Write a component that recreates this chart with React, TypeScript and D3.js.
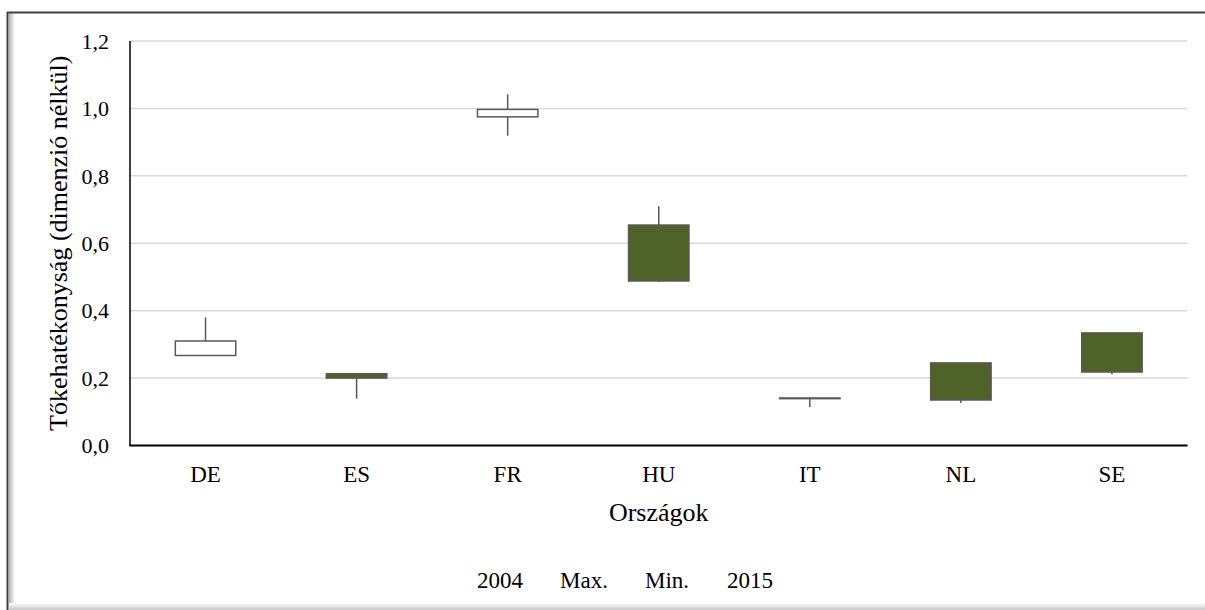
import React from "react";
import * as d3 from "d3";

const categories = ["DE", "ES", "FR", "HU", "IT", "NL", "SE"];
const open2004 = [0.267, 0.213, 0.975, 0.654, 0.141, 0.245, 0.334];
const maxValues = [0.38, 0.213, 1.042, 0.71, 0.141, 0.245, 0.334];
const minValues = [0.267, 0.139, 0.919, 0.486, 0.114, 0.126, 0.212];
const close2015 = [0.31, 0.2, 0.997, 0.488, 0.139, 0.135, 0.218];
const yTicks = [0, 0.2, 0.4, 0.6, 0.8, 1.0, 1.2];
const legendLabels = ["2004", "Max.", "Min.", "2015"];

const W = 1205;
const H = 610;
const left = 130;
const right = 1187.5;
const top = 41;
const bottom = 445.5;
const font = "'Liberation Serif', 'Times New Roman', serif";

export default function App() {
  const x = d3.scaleBand<string>().domain(categories).range([left, right]).padding(0);
  const y = d3.scaleLinear().domain([0, 1.2]).range([bottom, top]);
  const bw = x.bandwidth() * 0.4;
  const fmt = (v: number) => d3.format(".1f")(v).replace(".", ",");
  const legendX = [477, 560, 645, 727];

  return (
    <svg width={W} height={H} style={{ position: "absolute", left: 0, top: 0, background: "#fff" }}>
      <defs>
        <linearGradient id="shadowB" x1="0" y1="0" x2="0" y2="1">
          <stop offset="0" stopColor="#ffffff" />
          <stop offset="1" stopColor="#c8c8c8" />
        </linearGradient>
        <linearGradient id="shadowL" x1="0" y1="0" x2="1" y2="0">
          <stop offset="0" stopColor="#b0b0b0" />
          <stop offset="1" stopColor="#ffffff" />
        </linearGradient>
      </defs>
      <rect x={0} y={0} width={W} height={H} fill="#fff" />
      {/* outer frame */}
      <rect x={9} y={13} width={6} height={592} fill="url(#shadowL)" />
      <rect x={9} y={603} width={W - 9} height={7} fill="url(#shadowB)" />
      <line x1={7.5} y1={12} x2={7.5} y2={610} stroke="#404040" strokeWidth={2} />
      <line x1={7} y1={12.5} x2={W} y2={12.5} stroke="#404040" strokeWidth={2} />

      {/* gridlines */}
      {yTicks.map((t) => (
        <line key={"g" + t} x1={left} x2={right} y1={y(t)} y2={y(t)} stroke="#d9d9d9" strokeWidth={1.5} />
      ))}
      {/* y tick labels */}
      {yTicks.map((t) => (
        <text key={"t" + t} x={109} y={y(t)} dy="0.35em" textAnchor="end" fontFamily={font} fontSize={22} fill="#000">
          {fmt(t)}
        </text>
      ))}

      {/* candles */}
      {categories.map((c, i) => {
        const cx = (x(c) as number) + x.bandwidth() / 2;
        const o = open2004[i];
        const cl = close2015[i];
        const up = cl >= o;
        const yTop = y(Math.max(o, cl));
        const yBot = y(Math.min(o, cl));
        return (
          <g key={c}>
            <line x1={cx} x2={cx} y1={y(maxValues[i])} y2={y(minValues[i])} stroke="#595959" strokeWidth={1.5} />
            <rect
              x={cx - bw / 2}
              y={yTop}
              width={bw}
              height={Math.max(yBot - yTop, 0.5)}
              fill={up ? "#ffffff" : "#4f6228"}
              stroke="#595959"
              strokeWidth={1.5}
            />
          </g>
        );
      })}

      {/* axes */}
      <line x1={left} x2={left} y1={top} y2={bottom} stroke="#000" strokeWidth={1.5} />
      <line x1={left - 0.75} x2={right} y1={bottom} y2={bottom} stroke="#000" strokeWidth={2} />

      {/* x tick labels */}
      {categories.map((c) => (
        <text key={"x" + c} x={(x(c) as number) + x.bandwidth() / 2} y={481.5} textAnchor="middle" fontFamily={font} fontSize={23} fill="#000">
          {c}
        </text>
      ))}

      {/* axis titles */}
      <text x={(left + right) / 2} y={520.5} textAnchor="middle" fontFamily={font} fontSize={26} fill="#000">
        Országok
      </text>
      <text
        transform={`translate(67, ${(top + bottom) / 2}) rotate(-90)`}
        textAnchor="middle"
        fontFamily={font}
        fontSize={26}
        fill="#000"
      >
        Tőkehatékonyság (dimenzió nélkül)
      </text>

      {/* legend */}
      {legendLabels.map((l, i) => (
        <text key={"l" + l} x={legendX[i]} y={587.5} fontFamily={font} fontSize={23} fill="#000">
          {l}
        </text>
      ))}
    </svg>
  );
}
